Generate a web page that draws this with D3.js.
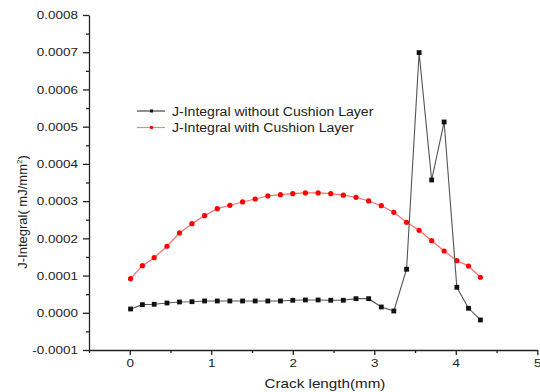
<!DOCTYPE html>
<html>
<head>
<meta charset="utf-8">
<script src="https://cdn.jsdelivr.net/npm/d3@7"></script>
<style>
  body { margin: 0; background: #fff; }
  svg { display: block; font-family: "Liberation Sans", Arial, sans-serif; }
  .axis path, .axis line { stroke: #222; stroke-width: 1.3; }
</style>
</head>
<body>
<svg id="chart" width="540" height="392"></svg>
<script>
// J-Integral vs crack length

var crackLength = [0.01, 0.155, 0.30, 0.457, 0.61, 0.763, 0.918, 1.074, 1.228, 1.384,
  1.539, 1.694, 1.849, 2.0, 2.155, 2.311, 2.466, 2.62, 2.776, 2.931,
  3.086, 3.24, 3.396, 3.55, 3.704, 3.857, 4.013, 4.156, 4.302];

var withoutCushion = [0.0000102, 0.0000218, 0.0000228, 0.0000263, 0.000029, 0.0000298,
  0.0000317, 0.0000317, 0.0000317, 0.0000317, 0.0000317, 0.0000317, 0.0000317,
  0.0000336, 0.0000344, 0.0000344, 0.0000336, 0.0000336, 0.0000379, 0.0000379,
  0.0000156, 0.0000048, 0.0001169, 0.000699, 0.0003568, 0.0005126, 0.0000685,
  0.0000121, -0.0000193];

var withCushion = [0.0000916, 0.0001265, 0.000148, 0.0001787, 0.0002144, 0.0002394,
  0.000261, 0.0002797, 0.0002888, 0.0002977, 0.0003057, 0.0003138, 0.0003173,
  0.00032, 0.0003219, 0.0003219, 0.00032, 0.000316, 0.0003103, 0.0003004,
  0.0002877, 0.00027, 0.0002431, 0.0002216, 0.0001937, 0.000166, 0.00014,
  0.0001257, 0.0000954];

var xTicks = [0, 1, 2, 3, 4, 5];
var yTicks = [-0.0001, 0, 0.0001, 0.0002, 0.0003, 0.0004, 0.0005, 0.0006, 0.0007, 0.0008];
var seriesNames = ["J-Integral without Cushion Layer", "J-Integral with Cushion Layer"];

var svg = d3.select("#chart");
var stretch = 1.17; // the reference text looks stretched sideways

var x = d3.scaleLinear().domain([-0.5, 5]).range([89, 537.3]);
var y = d3.scaleLinear().domain([-0.0001, 0.0008]).range([350, 15]);

// plain hyphen for negatives, like the original
var yFormat = function (d) { return d3.format(".4f")(d).replace("\u2212", "-"); };

///////////////////////////////////////////////////////////////////////////////
// Axes

var minorX = d3.range(-0.5, 5.01, 0.5).filter(function (d) { return Math.abs(d % 1) > 0.1; });
var minorY = yTicks.slice(0, -1).map(function (d) { return d + 0.00005; });

svg.append("g").attr("class", "axis")
  .attr("transform", "translate(0," + y.range()[0] + ")")
  .call(d3.axisBottom(x).tickValues(minorX).tickSize(3).tickFormat(""))
  .select(".domain").remove();
svg.append("g").attr("class", "axis xaxis")
  .attr("transform", "translate(0," + y.range()[0] + ")")
  .call(d3.axisBottom(x).tickValues(xTicks).tickSizeInner(5).tickSizeOuter(0).tickPadding(4)
    .tickFormat(d3.format("d")));

svg.append("g").attr("class", "axis")
  .attr("transform", "translate(" + x.range()[0] + ",0)")
  .call(d3.axisLeft(y).tickValues(minorY).tickSize(3).tickFormat(""))
  .select(".domain").remove();
svg.append("g").attr("class", "axis yaxis")
  .attr("transform", "translate(" + x.range()[0] + ",0)")
  .call(d3.axisLeft(y).tickValues(yTicks).tickSizeInner(6).tickSizeOuter(0).tickPadding(5)
    .tickFormat(yFormat));

svg.selectAll(".xaxis text, .yaxis text")
  .attr("font-size", 11.5).attr("font-family", "Liberation Sans, Arial, sans-serif")
  .attr("fill", "#222");

// axis titles
svg.append("text")
  .attr("x", 325).attr("y", 388)
  .attr("text-anchor", "middle").attr("font-size", 13).attr("fill", "#222")
  .text("Crack length(mm)");

var ytitle = svg.append("text")
  .attr("transform", "translate(27,212) rotate(-90)")
  .attr("text-anchor", "middle").attr("font-size", 13).attr("fill", "#222");
ytitle.append("tspan").text("J-Integral( mJ/mm");
ytitle.append("tspan").attr("dy", -5).attr("font-size", 8).text("2");
ytitle.append("tspan").attr("dy", 5).text(")");

///////////////////////////////////////////////////////////////////////////////
// Series

var line = function (values) {
  return d3.line()
    .x(function (d, i) { return x(crackLength[i]); })
    .y(function (d) { return y(d); })(values);
};

svg.append("path").attr("d", line(withCushion))
  .attr("fill", "none").attr("stroke", "#ff6b6b").attr("stroke-width", 1.2);
svg.append("g").selectAll("circle").data(withCushion).join("circle")
  .attr("cx", function (d, i) { return x(crackLength[i]); })
  .attr("cy", function (d) { return y(d); })
  .attr("r", 2.6).attr("fill", "#f00");

svg.append("path").attr("d", line(withoutCushion))
  .attr("fill", "none").attr("stroke", "#555").attr("stroke-width", 1.1);
svg.append("g").selectAll("rect").data(withoutCushion).join("rect")
  .attr("x", function (d, i) { return x(crackLength[i]) - 2.4; })
  .attr("y", function (d) { return y(d) - 2.4; })
  .attr("width", 4.8).attr("height", 4.8).attr("fill", "#111");

///////////////////////////////////////////////////////////////////////////////
// Legend

var legend = svg.append("g").attr("transform", "translate(137,111)");
var legendColors = [["#444", "#111"], ["#ff8080", "#f00"]];
seriesNames.forEach(function (name, i) {
  var g = legend.append("g").attr("transform", "translate(0," + i * 16.5 + ")");
  g.append("line").attr("x1", 0).attr("x2", 28).attr("y1", 0).attr("y2", 0)
    .attr("stroke", legendColors[i][0]).attr("stroke-width", 1.2);
  if (i === 0)
    g.append("rect").attr("x", 13).attr("y", -1.5).attr("width", 3).attr("height", 3)
      .attr("fill", legendColors[i][1]);
  else
    g.append("circle").attr("cx", 14.5).attr("cy", 0).attr("r", 1.8)
      .attr("fill", legendColors[i][1]);
  g.append("text").attr("x", 35).attr("y", 4.5)
    .attr("font-size", 12).attr("fill", "#222").text(name);
});

// widen every label a little so it matches the reference
svg.selectAll("text").each(function () {
  var w = this.getComputedTextLength();
  if (w > 0 && !this.querySelector("tspan"))
    d3.select(this).attr("textLength", w * stretch).attr("lengthAdjust", "spacingAndGlyphs");
});
</script>
</body>
</html>
